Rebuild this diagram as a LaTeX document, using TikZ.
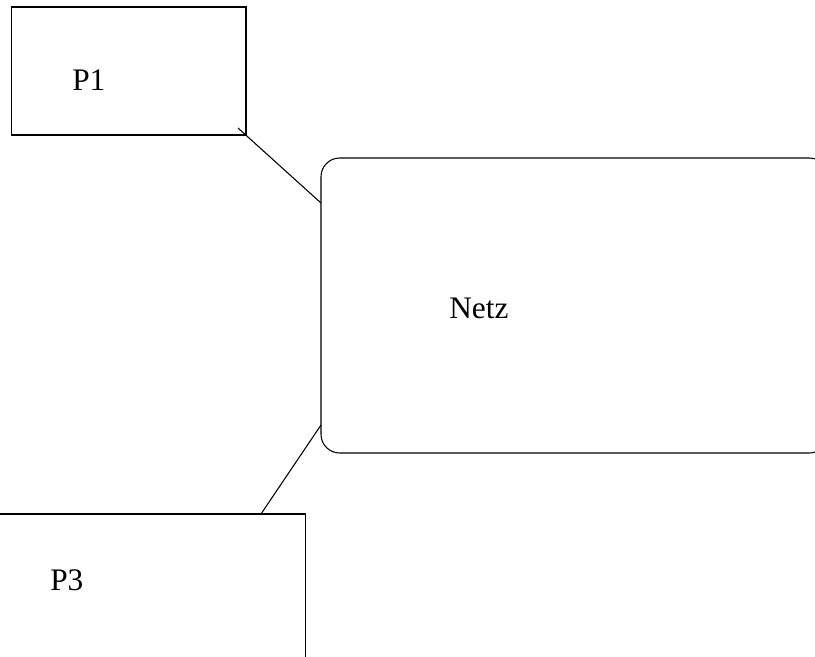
\documentclass[tikz,border=0pt]{standalone}
\usepackage{fontspec}
\setmainfont{Liberation Serif}
\begin{document}
\begin{tikzpicture}[x=0.75pt,y=-0.75pt,
  box/.style={draw=black,line width=0.8pt,fill=none},
  label/.style={inner sep=0pt,anchor=base west,font=\fontsize{23.5}{28}\selectfont},
  wire/.style={draw=black,line width=0.8pt}]
  \useasboundingbox (0,0) rectangle (815,657);
  \clip (0,0) rectangle (815,657);
  % stations and the network
  \draw[box] (11.5,7) rectangle (246,135);
  \draw[box,rounded corners=14pt] (321,158) rectangle (828,453);
  \draw[box] (-5,514) rectangle (305.5,670);
  \node[label] (p1) at (72,90) {P1};
  \node[label] (netz) at (449,318) {Netz};
  \node[label] (p3) at (50,590) {P3};
  % link end points
  \coordinate (p1out) at (238,128);
  \coordinate (netzin1) at (321,203);
  \coordinate (netzin3) at (321,425);
  \coordinate (p3out) at (261,514);
  \draw[wire] (p1out) -- (netzin1);
  \draw[wire] (netzin3) -- (p3out);
\end{tikzpicture}
\end{document}
